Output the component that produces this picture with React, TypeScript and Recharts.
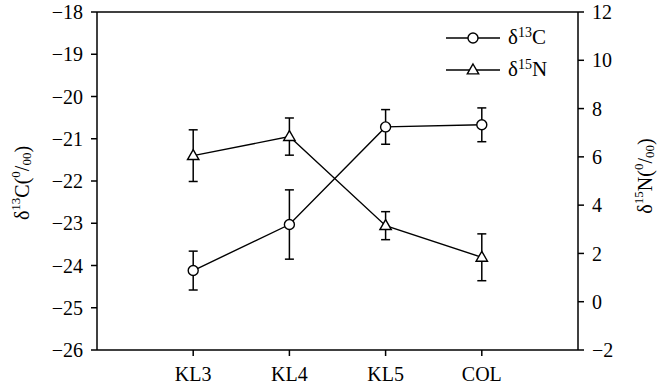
import React from "react"
import {
  ErrorBar,
  Legend,
  Line,
  LineChart,
  ReferenceLine,
  XAxis,
  YAxis,
} from "recharts"

const sites = ["KL3", "KL4", "KL5", "COL"]
const carbonMean = [-24.12, -23.03, -20.72, -20.67]
const carbonErr = [0.46, 0.82, 0.41, 0.4]
const nitrogenMean = [6.05, 6.84, 3.15, 1.84]
const nitrogenErr = [1.07, 0.77, 0.58, 0.97]
const carbonTicks = [-26, -25, -24, -23, -22, -21, -20, -19, -18]
const nitrogenTicks = [-2, 0, 2, 4, 6, 8, 10, 12]

const FONT = "Liberation Serif, DejaVu Serif, serif"
const INK = "#000"

const data = sites.map((site, i) => ({
  x: i + 1,
  site,
  carbon: carbonMean[i],
  carbonErr: carbonErr[i],
  nitrogen: nitrogenMean[i],
  nitrogenErr: nitrogenErr[i],
}))

const fmtNum = (v: number) => (v < 0 ? `\u2212${Math.abs(v)}` : `${v}`)

function SerifTick(props: any) {
  const { x, y, payload, textAnchor, side } = props
  const label = side === "x" ? sites[payload.value - 1] ?? "" : fmtNum(payload.value)
  return (
    <text
      x={x}
      y={y}
      dy={side === "x" ? "0.71em" : "0.355em"}
      textAnchor={textAnchor}
      fontSize={20}
      fill={INK}
      style={{ fontFamily: FONT }}
    >
      {label}
    </text>
  )
}

function AxisTitle({ cx, cy, el }: any) {
  const iso = el === "C" ? "13" : "15"
  return (
    <text
      x={cx}
      y={cy}
      transform={`rotate(-90 ${cx} ${cy})`}
      textAnchor="middle"
      dominantBaseline="central"
      fontSize={20}
      fill={INK}
      style={{ fontFamily: FONT }}
    >
      δ
      <tspan dy={-7} fontSize={13}>{iso}</tspan>
      <tspan dy={7}>{el}(</tspan>
      <tspan dy={-7} fontSize={13}>0</tspan>
      <tspan dy={7}>/</tspan>
      <tspan dy={4} fontSize={13}>00</tspan>
      <tspan dy={-4}>)</tspan>
    </text>
  )
}

function Triangle(props: any) {
  const { cx, cy, index } = props
  if (cx == null || cy == null) return <g key={`t-${index}`} />
  const s = 6
  return (
    <path
      key={`t-${index}`}
      d={`M${cx},${cy - s} L${cx + s * 0.95},${cy + s * 0.65} L${cx - s * 0.95},${cy + s * 0.65} Z`}
      fill="#fff"
      stroke={INK}
      strokeWidth={1.4}
    />
  )
}

function LegendRow({ label, iso, tri }: { label: string; iso: string; tri?: boolean }) {
  return (
    <div style={{ display: "flex", alignItems: "center", height: 32 }}>
      <svg width={62} height={32}>
        <line x1={0} x2={54} y1={16} y2={16} stroke={INK} strokeWidth={1.5} />
        {tri ? (
          <path d="M27,10 L32.7,19.9 L21.3,19.9 Z" fill="#fff" stroke={INK} strokeWidth={1.4} />
        ) : (
          <circle cx={27} cy={16} r={5} fill="#fff" stroke={INK} strokeWidth={1.4} />
        )}
      </svg>
      <span style={{ fontFamily: FONT, fontSize: 21, color: INK, lineHeight: "32px" }}>
        δ<span style={{ fontSize: 14, position: "relative", top: -7 }}>{iso}</span>
        {label}
      </span>
    </div>
  )
}

function ChartLegend() {
  return (
    <div>
      <LegendRow label="C" iso="13" />
      <LegendRow label="N" iso="15" tri />
    </div>
  )
}

export default function App() {
  return (
    <div style={{ position: "absolute", top: 0, left: 0, background: "#fff", fontFamily: FONT }}>
      <LineChart
        width={667}
        height={389}
        data={data}
        margin={{ top: 12, right: 0, bottom: 0, left: 0 }}
      >
        <XAxis
          dataKey="x"
          type="number"
          domain={[0, 5]}
          ticks={[1, 2, 3, 4]}
          height={39}
          tick={<SerifTick side="x" />}
          tickSize={6}
          tickMargin={11}
          stroke={INK}
          strokeWidth={1.5}
        />
        <YAxis
          yAxisId="left"
          domain={[-26, -18]}
          ticks={carbonTicks}
          width={97}
          tick={<SerifTick side="y" />}
          tickSize={6}
          tickMargin={8}
          stroke={INK}
          strokeWidth={1.5}
          label={<AxisTitle cx={22} cy={183} el="C" />}
        />
        <YAxis
          yAxisId="right"
          orientation="right"
          domain={[-2, 12]}
          ticks={nitrogenTicks}
          width={89}
          tick={<SerifTick side="y" />}
          tickSize={6}
          tickMargin={8}
          stroke={INK}
          strokeWidth={1.5}
          label={<AxisTitle cx={645} cy={176} el="N" />}
        />
        <ReferenceLine yAxisId="left" y={-18} stroke={INK} strokeWidth={1.5} />
        <Legend
          layout="horizontal"
          verticalAlign="middle"
          align="center"
          wrapperStyle={{ top: 22, left: 446, width: 150, height: 64 }}
          content={() => <ChartLegend />}
        />
        <Line
          yAxisId="left"
          dataKey="carbon"
          type="linear"
          stroke={INK}
          strokeWidth={1.4}
          dot={{ r: 5, fill: "#fff", stroke: INK, strokeWidth: 1.4 }}
          activeDot={false}
          isAnimationActive={false}
        >
          <ErrorBar dataKey="carbonErr" direction="y" width={4.5} stroke={INK} strokeWidth={1.5} />
        </Line>
        <Line
          yAxisId="right"
          dataKey="nitrogen"
          type="linear"
          stroke={INK}
          strokeWidth={1.4}
          dot={(p: any) => <Triangle {...p} />}
          activeDot={false}
          isAnimationActive={false}
        >
          <ErrorBar dataKey="nitrogenErr" direction="y" width={4.5} stroke={INK} strokeWidth={1.5} />
        </Line>
      </LineChart>
    </div>
  )
}
